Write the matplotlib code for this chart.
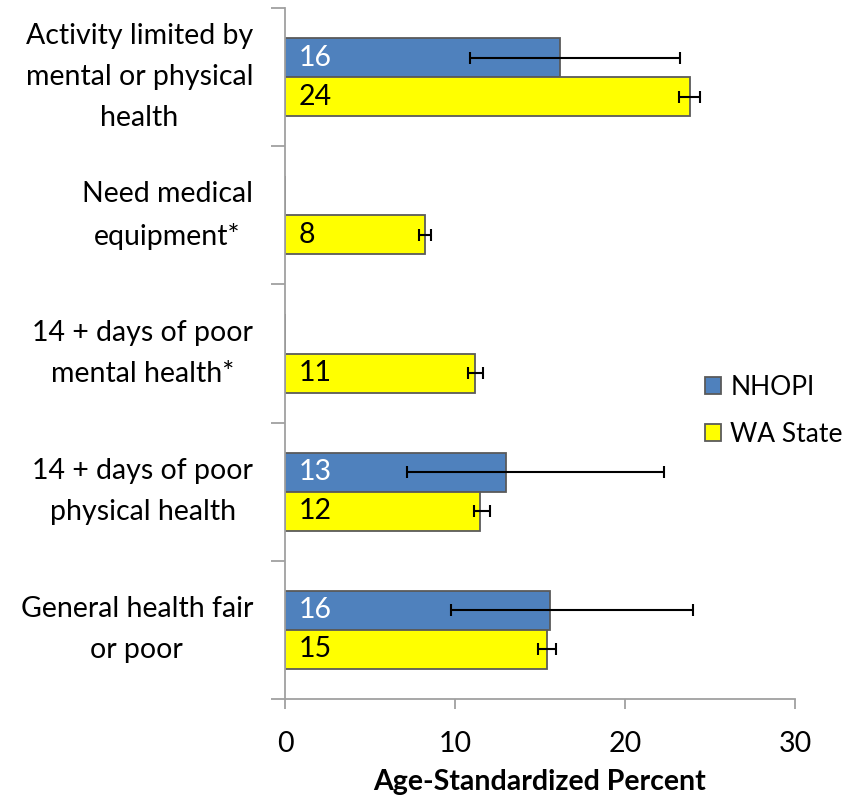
import matplotlib.pyplot as plt
import numpy as np

categories = ["Activity limited by\nmental or physical\nhealth", "Need medical\nequipment*",
              "14 + days of poor\nmental health*", "14 + days of poor\nphysical health",
              "General health fair\nor poor"]
nhopi = [16.15, 0, 0, 13.0, 15.6]
nhopi_lo = [10.9, 0, 0, 7.2, 9.75]
nhopi_hi = [23.25, 0, 0, 22.3, 24.0]
nhopi_lbl = ["16", "", "", "13", "16"]
wa = [23.8, 8.25, 11.2, 11.5, 15.4]
wa_lo = [23.2, 7.9, 10.75, 11.1, 14.9]
wa_hi = [24.4, 8.6, 11.65, 12.05, 15.95]
wa_lbl = ["24", "8", "11", "12", "15"]

plt.rcParams['font.family'] = ['Lato', 'DejaVu Sans']
fs = 20.5

fig = plt.figure(figsize=(8.45, 7.98), dpi=100)
ax = fig.add_axes([285 / 845, 1 - 699 / 798, 510 / 845, 691 / 798])

y = np.arange(len(categories))
h = 0.283
edge = "#5a5a5a"
ax.barh(y - h / 2, nhopi, height=h, color="#4F81BD", edgecolor=edge, linewidth=1.3, label="NHOPI")
ax.barh(y + h / 2, wa, height=h, color="#FFFF00", edgecolor=edge, linewidth=1.3, label="WA State")

for i in range(len(categories)):
    if nhopi[i] > 0:
        ax.errorbar(nhopi[i], y[i] - h / 2, xerr=[[nhopi[i] - nhopi_lo[i]], [nhopi_hi[i] - nhopi[i]]],
                    fmt="none", ecolor="black", elinewidth=1.5, capsize=4.5, capthick=1.5)
        ax.text(0.8, y[i] - h / 2, nhopi_lbl[i], color="white", fontsize=fs, ha="left", va="center")
    ax.errorbar(wa[i], y[i] + h / 2, xerr=[[wa[i] - wa_lo[i]], [wa_hi[i] - wa[i]]],
                fmt="none", ecolor="black", elinewidth=1.5, capsize=4.5, capthick=1.5)
    ax.text(0.8, y[i] + h / 2, wa_lbl[i], color="black", fontsize=fs, ha="left", va="center")

ax.set_xlim(0, 30)
ax.set_ylim(len(categories) - 0.5, -0.5)
ax.set_xticks([0, 10, 20, 30])
ax.tick_params(axis="x", labelsize=fs, length=7, width=1.3, color="#a0a0a0", pad=16)
ax.set_yticks(y)
ax.set_yticklabels(categories, fontsize=fs, linespacing=1.72, va="center", multialignment="center")
ax.set_yticks(np.arange(-0.5, len(categories), 1), minor=True)
ax.tick_params(axis="y", which="major", length=0, pad=23)
ax.tick_params(axis="y", which="minor", length=10, width=1.3, color="#a0a0a0")

for s in ["top", "right"]:
    ax.spines[s].set_visible(False)
for s in ["left", "bottom"]:
    ax.spines[s].set_color("#a0a0a0")
    ax.spines[s].set_linewidth(1.3)

ax.set_xlabel("Age-Standardized Percent", fontsize=fs, fontweight="bold", labelpad=9)

fig.legend(loc="upper left", bbox_to_anchor=(694 / 845, 1 - 364 / 798), frameon=False,
           fontsize=19, handlelength=0.62, handleheight=0.62, handletextpad=0.35,
           labelspacing=0.85, borderaxespad=0)

plt.savefig("out.png", dpi=100)
